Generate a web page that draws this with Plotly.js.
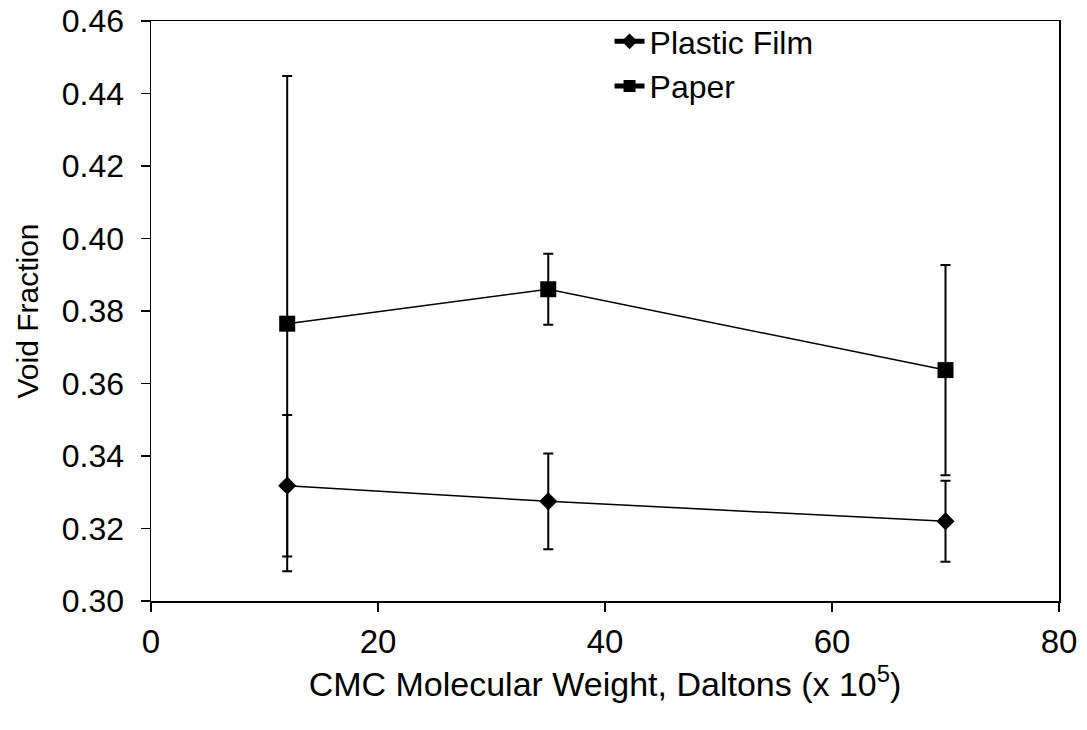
<!DOCTYPE html>
<html>
<head>
<meta charset="utf-8">
<script src="https://cdn.plot.ly/plotly-3.0.1.min.js"></script>
<style>html,body{margin:0;padding:0;background:#fff;}#chart{width:1087px;height:730px;}</style>
</head>
<body>
<div id="chart"></div>
<script>
const molecularWeight = [12, 35, 70];
const plasticFilm = [0.3318, 0.3275, 0.3220];
const plasticFilmErr = [0.0195, 0.0132, 0.0112];
const paper = [0.3765, 0.3860, 0.3637];
const paperErr = [0.0683, 0.0098, 0.0290];
const xTicks = [0, 20, 40, 60, 80];
const yTicks = [0.30, 0.32, 0.34, 0.36, 0.38, 0.40, 0.42, 0.44, 0.46];

const FONT = '"Liberation Sans", Arial, sans-serif';

const traces = [
  {
    x: molecularWeight, y: plasticFilm, name: 'Plastic Film', type: 'scatter', mode: 'lines+markers',
    line: {color: '#000', width: 1.5},
    marker: {symbol: 'diamond', size: 14, color: '#000'},
    error_y: {type: 'data', array: plasticFilmErr, visible: true, color: '#000', thickness: 2, width: 5}
  },
  {
    x: molecularWeight, y: paper, name: 'Paper', type: 'scatter', mode: 'lines+markers',
    line: {color: '#000', width: 1.5},
    marker: {symbol: 'square', size: 16, color: '#000'},
    error_y: {type: 'data', array: paperErr, visible: true, color: '#000', thickness: 2, width: 5}
  }
];

const layout = {
  width: 1087, height: 730,
  margin: {l: 151, r: 28, t: 21, b: 129},
  paper_bgcolor: '#fff', plot_bgcolor: '#fff',
  font: {family: FONT, color: '#000', size: 30},
  showlegend: true,
  legend: {x: 0.505, y: 1.012, xanchor: 'left', yanchor: 'top', bgcolor: 'rgba(0,0,0,0)',
           font: {family: FONT, size: 32, color: '#000'}, tracegroupgap: 0, itemsizing: 'constant'},
  xaxis: {
    range: [0, 80], tickvals: xTicks, ticktext: xTicks.map(String),
    showgrid: false, zeroline: false, showline: true, linecolor: '#000', linewidth: 1.5,
    mirror: true, ticks: 'outside', ticklen: 9, tickwidth: 1.5, tickcolor: '#000',
    tickfont: {family: FONT, size: 33, color: '#000'}, ticklabelstandoff: 2,
    title: {text: 'CMC Molecular Weight, Daltons (x 10<sup>5</sup>)', font: {family: FONT, size: 34, color: '#000'}, standoff: 12}
  },
  yaxis: {
    range: [0.30, 0.46], tickvals: yTicks, ticktext: yTicks.map(v => v.toFixed(2)),
    showgrid: false, zeroline: false, showline: true, linecolor: '#000', linewidth: 1.5,
    mirror: true, ticks: 'outside', ticklen: 9, tickwidth: 1.5, tickcolor: '#000',
    tickfont: {family: FONT, size: 32, color: '#000'}, ticklabelstandoff: 10,
    title: {text: 'Void Fraction', font: {family: FONT, size: 30, color: '#000'}, standoff: 14}
  }
};

Plotly.newPlot('chart', traces, layout, {displayModeBar: false, staticPlot: true});
</script>
</body>
</html>
